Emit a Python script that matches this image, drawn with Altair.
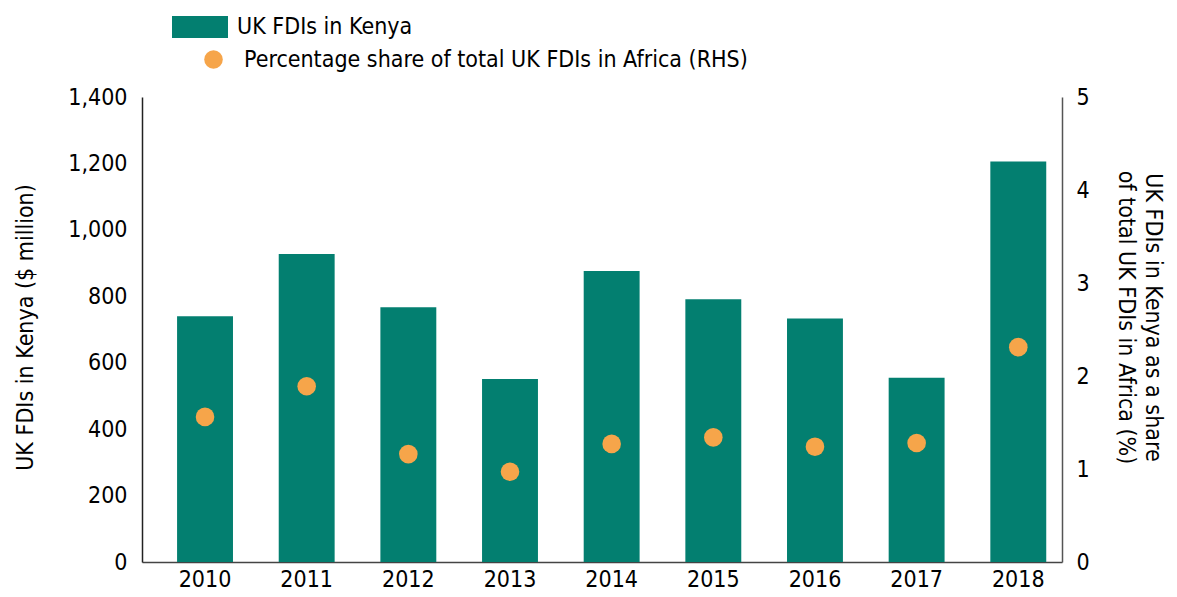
import altair as alt
import pandas as pd

years = ["2010", "2011", "2012", "2013", "2014", "2015", "2016", "2017", "2018"]
fdi = [740, 927, 767, 551, 876, 791, 733, 555, 1206]
share = [1.56, 1.89, 1.16, 0.97, 1.27, 1.34, 1.24, 1.28, 2.31]
bar_name = "UK FDIs in Kenya"
dot_name = "Percentage share of total UK FDIs in Africa (RHS)"
left_title = "UK FDIs in Kenya ($ million)"
right_title = ["UK FDIs in Kenya as a share", "of total UK FDIs in Africa (%)"]

df = pd.DataFrame({"year": years, "fdi": fdi, "share": share,
                   "s1": [bar_name] * 9, "s2": [dot_name] * 9})

FONT = "DejaVu Sans Condensed, Liberation Sans Narrow, sans-serif"
FS = 23
TEAL = "#037F70"
ORANGE = "#F6A54A"

xenc = alt.X("year:N", title=None,
             scale=alt.Scale(paddingInner=0.45, paddingOuter=0.25, align=0.69),
             axis=alt.Axis(labelAngle=0, ticks=False, labelPadding=6,
                           labelFont=FONT, labelFontSize=FS, labelColor="#000",
                           domainColor="#444", domainWidth=1.5))

bars = alt.Chart(df).mark_bar(color=TEAL).encode(
    x=xenc,
    y=alt.Y("fdi:Q", scale=alt.Scale(domain=[0, 1400], nice=False),
            axis=alt.Axis(orient="left", values=[0, 200, 400, 600, 800, 1000, 1200, 1400],
                          format=",.0f", ticks=False, grid=False, labelPadding=15,
                          labelFont=FONT, labelFontSize=FS, labelColor="#000",
                          domainColor="#222", domainWidth=1.5,
                          title=left_title, titleFont=FONT, titleFontSize=FS,
                          titleFontWeight="normal", titleColor="#000",
                          titleAngle=-90, titleX=-117, titleY=230,
                          titleAlign="center", titleBaseline="middle")),
    color=alt.Color("s1:N", scale=alt.Scale(range=[TEAL]),
                    legend=alt.Legend(title=None, orient="none", legendX=30, legendY=-98,
                                      padding=0, symbolType="M-1,-0.393H1V0.393H-1Z",
                                      symbolSize=3136, symbolStrokeWidth=0, symbolOpacity=1,
                                      labelFont=FONT, labelFontSize=FS, labelColor="#000",
                                      labelOffset=9, labelLimit=800)),
)

dots = alt.Chart(df).mark_circle(size=346, opacity=1).encode(
    x=alt.X("year:N"),
    y=alt.Y("share:Q", scale=alt.Scale(domain=[0, 5], nice=False),
            axis=alt.Axis(orient="right", values=[0, 1, 2, 3, 4, 5], ticks=False, grid=False,
                          labelPadding=14, labelFont=FONT, labelFontSize=FS, labelColor="#000",
                          domainColor="#555", domainWidth=1.5,
                          title=right_title, titleFont=FONT, titleFontSize=FS,
                          titleFontWeight="normal", titleColor="#000",
                          titleAngle=90, titleX=90, titleY=220, titleLineHeight=27,
                          titleAlign="center", titleBaseline="middle")),
    fill=alt.Fill("s2:N", scale=alt.Scale(range=[ORANGE]),
                  legend=alt.Legend(title=None, orient="none", legendX=60, legendY=-49,
                                    padding=0, symbolType="circle", symbolSize=346,
                                    symbolStrokeWidth=0, symbolOpacity=1,
                                    labelFont=FONT, labelFontSize=FS, labelColor="#000",
                                    labelOffset=19, labelLimit=800)),
)

chart = alt.layer(bars, dots).resolve_scale(y="independent", color="independent").properties(
    width=920, height=465,
    autosize=alt.AutoSizeParams(type="none"),
    padding={"left": 134, "top": 89, "right": 107, "bottom": 31},
).configure_view(stroke=None)

chart.save("out.html", embed_options={"renderer": "svg", "actions": False})
